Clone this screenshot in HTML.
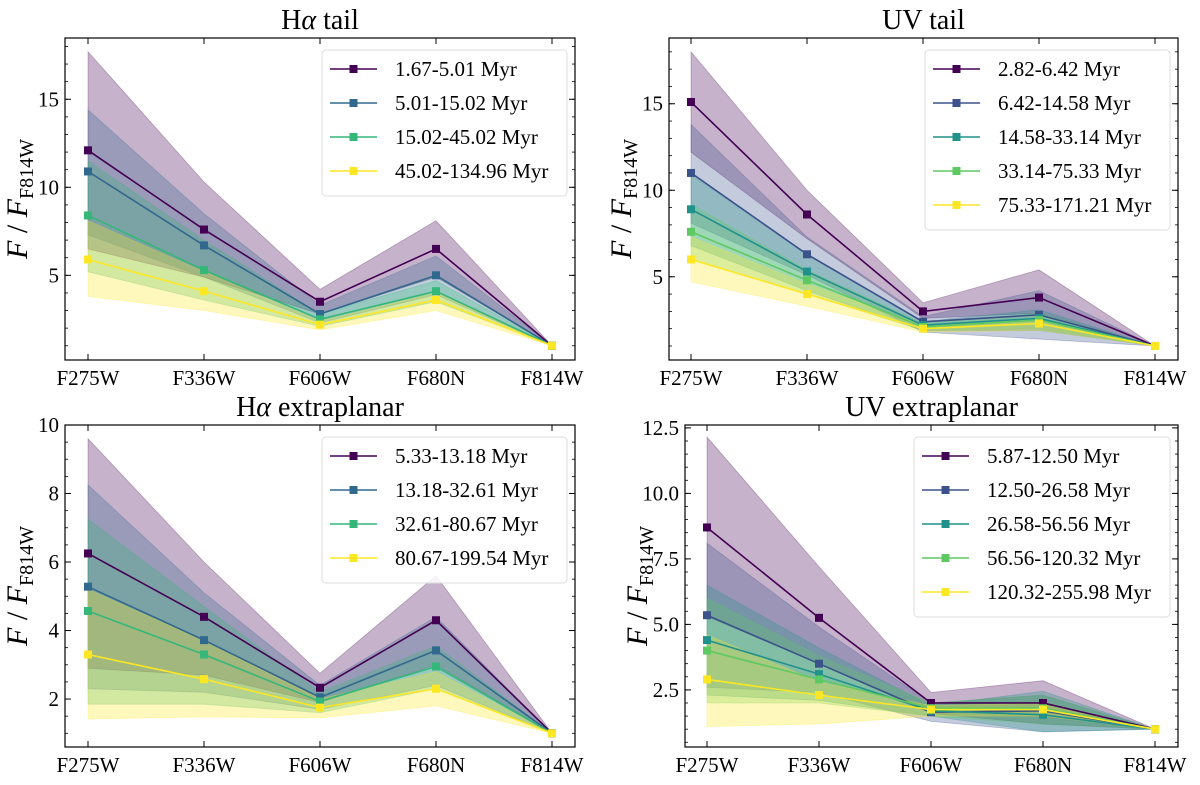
<!DOCTYPE html>
<html><head><meta charset="utf-8">
<style>
body{margin:0;background:#fff;}
svg{display:block;font-family:"Liberation Serif",serif;}
</style></head>
<body>
<svg id="fig" width="1200" height="785" viewBox="0 0 1200 785" xmlns="http://www.w3.org/2000/svg"></svg>
<script>
const categories = ["F275W","F336W","F606W","F680N","F814W"];

// Panel 1: H-alpha tail
const p1Labels = ["1.67-5.01 Myr","5.01-15.02 Myr","15.02-45.02 Myr","45.02-134.96 Myr"];
const p1Mid = [[12.1,7.6,3.5,6.5,1],[10.9,6.7,2.8,5.0,1],[8.4,5.3,2.5,4.1,1],[5.9,4.1,2.2,3.6,1]];
const p1Up  = [[17.7,10.3,4.2,8.1,1],[14.4,8.5,3.3,6.1,1],[11.5,7.0,2.8,4.7,1],[8.1,5.2,2.4,4.0,1]];
const p1Lo  = [[6.5,4.9,2.8,4.9,1],[7.3,4.9,2.3,3.9,1],[5.2,3.6,2.1,3.5,1],[3.8,3.0,1.9,3.0,1]];
const p1Ticks = [5,10,15];

// Panel 2: UV tail
const p2Labels = ["2.82-6.42 Myr","6.42-14.58 Myr","14.58-33.14 Myr","33.14-75.33 Myr","75.33-171.21 Myr"];
const p2Mid = [[15.1,8.6,3.0,3.8,1],[11.0,6.3,2.4,2.8,1],[8.9,5.3,2.2,2.6,1],[7.6,4.8,2.1,2.5,1],[6.0,4.0,2.0,2.3,1]];
const p2Up  = [[18.0,10.0,3.5,5.4,1],[13.8,7.3,2.7,4.2,1],[10.9,6.3,2.4,3.1,1],[9.2,5.4,2.3,2.9,1],[7.3,4.6,2.2,2.6,1]];
const p2Lo  = [[12.2,7.2,2.6,2.9,1],[8.1,5.1,1.8,1.4,1],[6.8,4.2,1.9,1.9,1],[6.0,4.0,1.9,2.0,1],[4.7,3.3,1.8,1.9,1]];
const p2Ticks = [5,10,15];

// Panel 3: H-alpha extraplanar
const p3Labels = ["5.33-13.18 Myr","13.18-32.61 Myr","32.61-80.67 Myr","80.67-199.54 Myr"];
const p3Mid = [[6.25,4.4,2.33,4.3,1],[5.28,3.72,2.05,3.42,1],[4.57,3.3,1.93,2.95,1],[3.3,2.58,1.75,2.3,1]];
const p3Up  = [[9.6,6.0,2.75,5.6,1],[8.25,5.1,2.4,4.4,1],[7.25,4.7,2.2,3.55,1],[5.2,3.7,2.0,2.8,1]];
const p3Lo  = [[2.9,2.7,1.9,3.0,1],[2.3,2.2,1.7,2.4,1],[1.85,1.85,1.6,2.3,1],[1.42,1.48,1.45,1.8,1]];
const p3Ticks = [2,4,6,8,10];

// Panel 4: UV extraplanar
const p4Labels = ["5.87-12.50 Myr","12.50-26.58 Myr","26.58-56.56 Myr","56.56-120.32 Myr","120.32-255.98 Myr"];
const p4Mid = [[8.7,5.25,2.0,2.0,1],[5.35,3.5,1.65,1.7,1],[4.4,3.1,1.7,1.55,1],[4.0,2.9,1.8,1.8,1],[2.9,2.3,1.75,1.75,1]];
const p4Up  = [[12.15,7.2,2.4,2.85,1],[8.1,4.9,2.0,2.3,1],[6.5,4.1,1.9,2.45,1],[6.0,3.8,2.0,2.3,1],[4.6,2.8,1.9,2.0,1]];
const p4Lo  = [[5.3,3.5,1.6,1.2,1],[2.6,2.4,1.3,0.9,1],[2.3,2.1,1.5,0.9,1],[2.0,2.0,1.5,1.2,1],[1.1,1.2,1.5,1.5,1]];
const p4Ticks = ["2.5","5.0","7.5","10.0","12.5"];

const col4 = ["#440154","#31688e","#35b779","#fde725"];
const col5 = ["#440154","#3b528b","#21918c","#5ec962","#fde725"];

const NS = "http://www.w3.org/2000/svg";
const svg = document.getElementById("fig");
function mk(tag, attrs, parent){
  const e = document.createElementNS(NS, tag);
  for (const k in attrs) e.setAttribute(k, attrs[k]);
  (parent||svg).appendChild(e);
  return e;
}

function panel(cfg){
  const g = mk("g", {});
  
  
  const {L,R,T,B,x0,x1,ymin,ymax} = cfg;
  const xs = i => x0 + (x1-x0)*i/(categories.length-1);
  const ys = v => B - (v-ymin)/(ymax-ymin)*(B-T);
  cfg.mid.forEach((m,s)=>{
    let d = "";
    cfg.up[s].forEach((v,i)=>{ d += (i?"L":"M")+xs(i)+","+ys(v); });
    for(let i=cfg.lo[s].length-1;i>=0;i--) d += "L"+xs(i)+","+ys(cfg.lo[s][i]);
    const p = mk("path",{d:d+"Z",fill:cfg.colors[s],"fill-opacity":0.3,stroke:cfg.colors[s],"stroke-opacity":0.3,"stroke-width":0.8},g);
    
    
  });
  cfg.mid.forEach((m,s)=>{
    const pts = m.map((v,i)=>xs(i)+","+ys(v)).join(" ");
    const l = mk("polyline",{points:pts,fill:"none",stroke:cfg.colors[s],"stroke-width":1.6},g);
    
    
    m.forEach((v,i)=>{
      const r = mk("rect",{x:xs(i)-4,y:ys(v)-4,width:8,height:8,fill:cfg.colors[s]},g);
      
      
    });
  });
  const f = mk("rect",{x:L,y:T,width:R-L,height:B-T,fill:"none",stroke:"#000","stroke-width":1.2},g);
  
  
  categories.forEach((c,i)=>{
    const x = xs(i);
    mk("line",{x1:x,x2:x,y1:B,y2:B-6,stroke:"#000","stroke-width":1},g);
    mk("line",{x1:x,x2:x,y1:T,y2:T+6,stroke:"#000","stroke-width":1},g);
    const t = mk("text",{x:x,y:B+25,"text-anchor":"middle","font-size":21},g);
    t.textContent = c;
    
    
  });
  cfg.ticks.forEach(tv=>{
    const v = parseFloat(tv);
    const y = ys(v);
    mk("line",{x1:L,x2:L+6,y1:y,y2:y,stroke:"#000","stroke-width":1},g);
    mk("line",{x1:R,x2:R-6,y1:y,y2:y,stroke:"#000","stroke-width":1},g);
    const t = mk("text",{x:L-6,y:y+7,"text-anchor":"end","font-size":21},g);
    t.textContent = tv;
    
    
  });
  for(let v=Math.ceil(ymin/cfg.minor)*cfg.minor; v<=ymax; v+=cfg.minor){
    const y = ys(v);
    mk("line",{x1:L,x2:L+3,y1:y,y2:y,stroke:"#000","stroke-width":0.8},g);
    mk("line",{x1:R,x2:R-3,y1:y,y2:y,stroke:"#000","stroke-width":0.8},g);
  }
  const ti = mk("text",{x:(L+R)/2,y:T-9,"text-anchor":"middle","font-size":28},g);
  ti.innerHTML = cfg.title;
  
  
  const cy = (T+B)/2, lx = L-38;
  const yl = mk("text",{x:lx,y:cy,"text-anchor":"middle","font-size":30,transform:"rotate(-90 "+lx+" "+cy+")"},g);
  yl.innerHTML = '<tspan font-style="italic">F</tspan> / <tspan font-style="italic">F</tspan><tspan font-size="20" dy="6">F814W</tspan>';
  
  
  const n = cfg.labels.length;
  const lg = mk("g",{},g);
  
  
  mk("rect",{x:cfg.lgx,y:T+12,width:R-8-cfg.lgx,height:n*34+10,rx:4,fill:"#fff","fill-opacity":0.85,stroke:"#ddd","stroke-width":1},lg);
  cfg.labels.forEach((lab,s)=>{
    const y = T+31+s*34;
    const e = mk("g",{},lg);
    
    
    mk("line",{x1:cfg.lgx+8,x2:cfg.lgx+55,y1:y,y2:y,stroke:cfg.colors[s],"stroke-width":1.6},e);
    mk("rect",{x:cfg.lgx+27.5,y:y-4,width:8,height:8,fill:cfg.colors[s]},e);
    const t = mk("text",{x:cfg.lgx+73,y:y+7,"font-size":21},e);
    t.textContent = lab;
  });
}

panel({name:"panel-halpha-tail",L:65,R:575,T:38,B:360,x0:88,x1:552,ymin:0.19,ymax:18.48,
  mid:p1Mid,up:p1Up,lo:p1Lo,labels:p1Labels,colors:col4,ticks:p1Ticks,minor:1,
  title:'H<tspan font-style="italic">α</tspan> tail',lgx:322});
panel({name:"panel-uv-tail",L:669,R:1178,T:38,B:360,x0:691,x1:1155,ymin:0.19,ymax:18.8,
  mid:p2Mid,up:p2Up,lo:p2Lo,labels:p2Labels,colors:col5,ticks:p2Ticks,minor:1,
  title:'UV tail',lgx:925});
panel({name:"panel-halpha-extraplanar",L:65,R:575,T:425,B:747,x0:88,x1:552,ymin:0.6,ymax:10,
  mid:p3Mid,up:p3Up,lo:p3Lo,labels:p3Labels,colors:col4,ticks:p3Ticks,minor:0.5,
  title:'H<tspan font-style="italic">α</tspan> extraplanar',lgx:322});
panel({name:"panel-uv-extraplanar",L:685,R:1178,T:425,B:747,x0:707,x1:1155,ymin:0.32,ymax:12.61,
  mid:p4Mid,up:p4Up,lo:p4Lo,labels:p4Labels,colors:col5,ticks:p4Ticks,minor:0.5,
  title:'UV extraplanar',lgx:914});
</script>
</body></html>
